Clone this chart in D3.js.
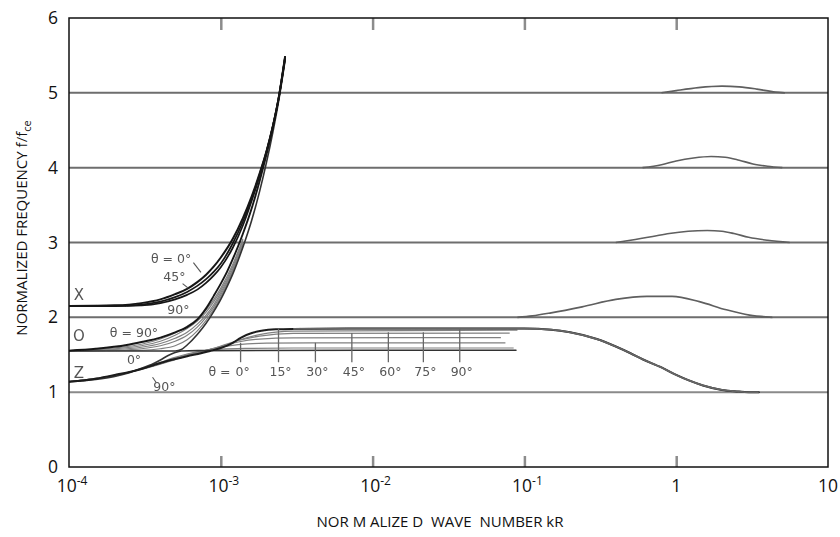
<!DOCTYPE html>
<html>
<head>
<meta charset="utf-8">
<script src="https://cdn.jsdelivr.net/npm/d3@7"></script>
<style>
  body { margin: 0; background: #fff; }
  svg { display: block; }
</style>
</head>
<body>
<svg id="chart" width="840" height="537"></svg>
<script>
// ---- axis definitions ----
const xDomain = [1e-4, 10];
const yDomain = [0, 6];
const xTickValues = [1e-4, 1e-3, 1e-2, 1e-1, 1, 10];
const xTickBase = ["10", "10", "10", "10", "1", "10"];
const xTickExp = ["-4", "-3", "-2", "-1", "", ""];
const xInnerTicks = [1e-3, 1e-2, 1e-1, 1];
const yTickValues = [0, 1, 2, 3, 4, 5, 6];

// cyclotron harmonic lines f/fce = n
const harmonics = [1, 2, 3, 4, 5];

// X-mode branches (theta = 0, 45, 90 deg), [kR, f/fce]
const xMode0 = [[1e-4,2.15],[2e-4,2.16],[3e-4,2.19],[4e-4,2.24],[5e-4,2.31],[6e-4,2.38],[7e-4,2.47],[8e-4,2.57],[9e-4,2.68],[1e-3,2.80],[1.2e-3,3.05],[1.4e-3,3.33],[1.6e-3,3.62],[1.8e-3,3.92],[2e-3,4.22],[2.2e-3,4.55],[2.4e-3,4.92],[2.65e-3,5.48]];
const xMode45 = [[1e-4,2.15],[2e-4,2.155],[3e-4,2.17],[4e-4,2.21],[5e-4,2.27],[6e-4,2.34],[7e-4,2.42],[8e-4,2.51],[9e-4,2.61],[1e-3,2.72],[1.2e-3,2.99],[1.4e-3,3.28],[1.6e-3,3.59],[1.8e-3,3.91],[2e-3,4.22],[2.2e-3,4.55],[2.4e-3,4.92],[2.65e-3,5.48]];
const xMode90 = [[1e-4,2.15],[2e-4,2.15],[3e-4,2.16],[4e-4,2.19],[5e-4,2.24],[6e-4,2.30],[7e-4,2.37],[8e-4,2.46],[9e-4,2.56],[1e-3,2.67],[1.2e-3,2.93],[1.4e-3,3.23],[1.6e-3,3.56],[1.8e-3,3.89],[2e-3,4.21],[2.2e-3,4.55],[2.4e-3,4.92],[2.65e-3,5.48]];

// O-mode branches
const oMode90 = [[1e-4,1.555],[1.5e-4,1.58],[2.4e-4,1.63],[3e-4,1.67],[4e-4,1.73],[5e-4,1.80],[6e-4,1.87],[7e-4,1.97],[8e-4,2.12],[9e-4,2.29],[1e-3,2.45],[1.1e-3,2.61],[1.2e-3,2.78],[1.3e-3,2.95],[1.4e-3,3.12],[1.6e-3,3.46],[1.8e-3,3.82],[2e-3,4.18],[2.2e-3,4.54],[2.4e-3,4.92],[2.65e-3,5.46]];
const oMode75 = [[1e-4,1.555],[2e-4,1.59],[3e-4,1.64],[4e-4,1.71],[5e-4,1.79],[6e-4,1.88],[7e-4,1.98],[8e-4,2.10],[9e-4,2.24],[1e-3,2.39],[1.2e-3,2.71],[1.4e-3,3.05]];
const oMode60 = [[1e-4,1.555],[2e-4,1.58],[3e-4,1.62],[4e-4,1.68],[5e-4,1.76],[6e-4,1.85],[7e-4,1.95],[8e-4,2.07],[9e-4,2.21],[1e-3,2.36],[1.2e-3,2.68],[1.4e-3,3.03]];
const oMode45 = [[1e-4,1.555],[2e-4,1.57],[3e-4,1.60],[4e-4,1.65],[5e-4,1.72],[6e-4,1.80],[7e-4,1.91],[8e-4,2.03],[9e-4,2.17],[1e-3,2.33],[1.2e-3,2.65],[1.4e-3,3.00]];
const oMode30 = [[1e-4,1.55],[2e-4,1.56],[3e-4,1.58],[4e-4,1.62],[5e-4,1.68],[6e-4,1.76],[7e-4,1.87],[8e-4,2.00],[9e-4,2.14],[1e-3,2.30],[1.2e-3,2.63],[1.4e-3,2.98]];
const oMode15 = [[1e-4,1.55],[3e-4,1.56],[4e-4,1.58],[5e-4,1.62],[6e-4,1.70],[7e-4,1.82],[8e-4,1.96],[9e-4,2.11],[1e-3,2.27],[1.2e-3,2.61],[1.4e-3,2.96]];
const oMode0 = [[1e-4,1.55],[3e-4,1.55],[5e-4,1.55],[5.5e-4,1.57],[6e-4,1.63],[7e-4,1.77],[8e-4,1.92],[9e-4,2.08],[1e-3,2.24],[1.1e-3,2.41],[1.2e-3,2.58],[1.3e-3,2.76],[1.4e-3,2.94],[1.6e-3,3.30],[1.8e-3,3.68],[2e-3,4.07],[2.2e-3,4.47],[2.4e-3,4.88],[2.65e-3,5.43]];

// Z-mode branches; theta = 90 runs on into the first Bernstein band
const zMode90 = [[1e-4,1.14],[1.5e-4,1.18],[2e-4,1.23],[2.5e-4,1.27],[3e-4,1.31],[3.6e-4,1.36],[4.5e-4,1.42],[5.2e-4,1.45],[6e-4,1.48],[7.4e-4,1.52],[8.5e-4,1.55],[1e-3,1.59],[1.2e-3,1.66],[1.36e-3,1.73],[1.6e-3,1.79],[1.85e-3,1.82],[2.3e-3,1.84],[3e-3,1.845],[1e-2,1.85],[5e-2,1.85],[0.1,1.85],[0.15,1.835],[0.2,1.80],[0.3,1.71],[0.4,1.61],[0.5,1.52],[0.6,1.44],[0.8,1.33],[1.0,1.23],[1.2,1.16],[1.5,1.09],[2.0,1.03],[2.5,1.01],[3.0,1.0],[3.5,1.0]];
const zMode75 = [[1e-4,1.14],[2e-4,1.225],[3e-4,1.305],[4e-4,1.375],[5e-4,1.435],[6e-4,1.485],[7e-4,1.52],[8e-4,1.55],[1e-3,1.60],[1.3e-3,1.69],[1.8e-3,1.77],[3e-3,1.815],[9e-2,1.83]];
const zMode60 = [[1e-4,1.14],[2e-4,1.225],[3e-4,1.31],[4e-4,1.38],[5e-4,1.44],[6e-4,1.49],[7e-4,1.525],[8e-4,1.555],[1e-3,1.615],[1.3e-3,1.69],[1.8e-3,1.75],[3e-3,1.785],[8e-2,1.79]];
const zMode45 = [[1e-4,1.14],[2e-4,1.22],[3e-4,1.31],[4e-4,1.385],[5e-4,1.45],[6e-4,1.495],[7e-4,1.53],[8e-4,1.56],[1e-3,1.61],[1.3e-3,1.67],[1.8e-3,1.71],[3e-3,1.725],[7e-2,1.73]];
const zMode30 = [[1e-4,1.14],[2e-4,1.22],[3e-4,1.31],[4e-4,1.39],[5e-4,1.455],[6e-4,1.50],[7e-4,1.535],[8e-4,1.56],[1e-3,1.60],[1.3e-3,1.635],[2e-3,1.655],[4e-3,1.66],[7.5e-2,1.66]];
const zMode15 = [[1e-4,1.14],[2e-4,1.22],[3e-4,1.315],[4e-4,1.40],[5e-4,1.465],[6e-4,1.51],[7e-4,1.54],[8e-4,1.56],[1e-3,1.575],[1.5e-3,1.585],[3e-3,1.59],[8.5e-2,1.59]];
const zMode0 = [[1e-4,1.14],[1.5e-4,1.17],[2e-4,1.21],[2.5e-4,1.26],[3e-4,1.32],[3.5e-4,1.37],[4e-4,1.43],[4.5e-4,1.49],[5e-4,1.53],[5.5e-4,1.55],[7e-4,1.555],[1e-2,1.56],[8.8e-2,1.56]];

// higher Bernstein bands leaving and rejoining the harmonics
const bern2 = [[0.09,2.0],[0.113,2.02],[0.15,2.06],[0.24,2.14],[0.4,2.24],[0.64,2.28],[0.94,2.28],[1.42,2.21],[2.14,2.10],[3.04,2.03],[4.3,2.0]];
const bern3 = [[0.4,3.0],[0.5,3.03],[0.7,3.08],[0.9,3.12],[1.2,3.15],[1.6,3.16],[2.0,3.15],[2.4,3.12],[3.0,3.07],[4.0,3.03],[5.6,3.0]];
const bern4 = [[0.6,4.0],[0.8,4.04],[1.0,4.09],[1.3,4.13],[1.7,4.15],[2.1,4.14],[2.6,4.10],[3.2,4.05],[4.0,4.02],[5.0,4.0]];
const bern5 = [[0.8,5.0],[1.0,5.03],[1.4,5.07],[2.0,5.09],[2.6,5.08],[3.4,5.05],[4.5,5.01],[5.2,5.0]];

// resonance-cone angle labels with their leader ticks
const coneAngles = ["0°", "15°", "30°", "45°", "60°", "75°", "90°"];
const coneTickK = [1.35e-3, 2.4e-3, 4.2e-3, 7.3e-3, 1.27e-2, 2.16e-2, 3.75e-2];
const coneTickTop = [1.66, 1.85, 1.66, 1.79, 1.80, 1.80, 1.85];
const coneTickBottom = 1.40;
const coneLabelF = 1.27;

// branch annotations: [text, kR, f/fce, size]
const branchLabels = [
  ["X", 1.16e-4, 2.30, 15],
  ["O", 1.16e-4, 1.75, 15],
  ["Z", 1.16e-4, 1.26, 15],
  ["θ = 0°", 4.7e-4, 2.79, 12.5],
  ["45°", 4.95e-4, 2.54, 12.5],
  ["90°", 5.25e-4, 2.10, 12.5],
  ["θ = 90°", 2.68e-4, 1.79, 12.5],
  ["0°", 2.68e-4, 1.43, 12.5],
  ["90°", 4.25e-4, 1.07, 12.5]
];
const branchLeaders = [
  [[6.6e-4, 2.73], [7.4e-4, 2.60]],
  [[5.6e-4, 2.45], [6.1e-4, 2.39]],
  [[3.55e-4, 1.20], [3.75e-4, 1.13]]
];

// ---- drawing ----
const svg = d3.select("#chart");
const x = d3.scaleLog().domain(xDomain).range([69, 828]);
const y = d3.scaleLinear().domain(yDomain).range([467, 18]);

const defs = svg.append("defs");
defs.append("clipPath").attr("id", "plotClip")
  .append("rect").attr("x", 69).attr("y", 18).attr("width", 759).attr("height", 449);
defs.append("filter").attr("id", "soft")
  .attr("x", "-5%").attr("y", "-5%").attr("width", "110%").attr("height", "110%")
  .append("feGaussianBlur").attr("stdDeviation", 0.55);

const line = d3.line().x(d => x(d[0])).y(d => y(d[1])).curve(d3.curveMonotoneX);

const plot = svg.append("g").attr("clip-path", "url(#plotClip)");
const ink = plot.append("g").attr("filter", "url(#soft)");

// harmonic lines
ink.selectAll("path.harm").data(harmonics).join("path")
  .attr("class", "harm")
  .attr("d", h => line([[xDomain[0], h], [xDomain[1], h]]))
  .attr("fill", "none")
  .attr("stroke", h => h === 1 ? "#8a8a8a" : "#6e6e6e")
  .attr("stroke-width", 2);

// Bernstein bands
ink.selectAll("path.bern").data([bern2, bern3, bern4, bern5]).join("path")
  .attr("class", "bern")
  .attr("d", line)
  .attr("fill", "none")
  .attr("stroke", "#5e5e5e")
  .attr("stroke-width", 1.6);

// thin oblique-angle branches (fan shading)
const fan = [oMode15, oMode30, oMode45, oMode60, oMode75, zMode15, zMode30, zMode45, zMode60, zMode75];
ink.selectAll("path.fan").data(fan).join("path")
  .attr("class", "fan")
  .attr("d", line)
  .attr("fill", "none")
  .attr("stroke", "#808080")
  .attr("stroke-width", 1.2);

// principal branches
const principal = [
  [oMode0, "#333", 1.6],
  [zMode0, "#333", 1.6],
  [oMode90, "#151515", 1.9],
  [xMode90, "#151515", 1.7],
  [xMode45, "#151515", 1.7],
  [xMode0, "#151515", 2.0],
  [zMode90, "#1a1a1a", 2.0]
];
ink.selectAll("path.main").data(principal).join("path")
  .attr("class", "main")
  .attr("d", d => line(d[0]))
  .attr("fill", "none")
  .attr("stroke", d => d[1])
  .attr("stroke-width", d => d[2])
  .attr("stroke-linecap", "round");

// the theta = 90 plateau and Bernstein descent in grey
ink.append("path")
  .attr("d", line(zMode90.filter(d => d[0] >= 3e-3)))
  .attr("fill", "none").attr("stroke", "#666").attr("stroke-width", 1.8);

// resonance-cone leader ticks and angle labels
const lbl = plot.append("g").attr("filter", "url(#soft)");
lbl.selectAll("line.cone").data(coneTickK).join("line")
  .attr("class", "cone")
  .attr("x1", k => x(k)).attr("x2", k => x(k))
  .attr("y1", y(coneTickBottom)).attr("y2", (k, i) => y(coneTickTop[i]))
  .attr("stroke", "#666").attr("stroke-width", 1.3);
lbl.selectAll("text.cone").data(coneAngles).join("text")
  .attr("class", "cone")
  .attr("x", (t, i) => x(coneTickK[i]) + 2)
  .attr("y", y(coneLabelF))
  .attr("dy", "0.35em")
  .attr("text-anchor", "middle")
  .attr("font-family", "DejaVu Sans, sans-serif")
  .attr("font-size", 12.5)
  .attr("fill", "#555")
  .text(t => t);
lbl.append("text")
  .attr("x", x(coneTickK[0]) - 10)
  .attr("y", y(coneLabelF))
  .attr("dy", "0.35em")
  .attr("text-anchor", "end")
  .attr("font-family", "DejaVu Sans, sans-serif")
  .attr("font-size", 12.5)
  .attr("fill", "#555")
  .text("θ =");

// branch labels and leader lines
lbl.selectAll("text.branch").data(branchLabels).join("text")
  .attr("class", "branch")
  .attr("x", d => x(d[1]))
  .attr("y", d => y(d[2]))
  .attr("dy", "0.35em")
  .attr("text-anchor", "middle")
  .attr("font-family", "DejaVu Sans, sans-serif")
  .attr("font-size", d => d[3])
  .attr("fill", "#555")
  .text(d => d[0]);
lbl.selectAll("path.leader").data(branchLeaders).join("path")
  .attr("class", "leader")
  .attr("d", d3.line().x(d => x(d[0])).y(d => y(d[1])))
  .attr("fill", "none").attr("stroke", "#555").attr("stroke-width", 1.1);

// ---- axes ----
const tickStyle = g => {
  g.select(".domain").remove();
  g.selectAll(".tick line").attr("stroke", "#8c8c8c").attr("stroke-width", 2.5);
};
svg.append("g").attr("transform", "translate(0,467)")
  .call(d3.axisBottom(x).tickValues(xInnerTicks).tickSize(-11).tickFormat(""))
  .call(tickStyle);
svg.append("g").attr("transform", "translate(0,18)")
  .call(d3.axisTop(x).tickValues(xInnerTicks).tickSize(-12).tickFormat(""))
  .call(tickStyle);

svg.append("g").attr("transform", "translate(69,0)")
  .call(d3.axisLeft(y).tickValues(yTickValues).tickSize(0).tickPadding(11).tickFormat(d3.format("d")))
  .call(g => {
    g.select(".domain").remove();
    g.selectAll("text").attr("font-family", "Open Sans, sans-serif").attr("font-size", 17.5).attr("fill", "#111");
  });

// frame
svg.append("rect")
  .attr("x", 69).attr("y", 18).attr("width", 759).attr("height", 449)
  .attr("fill", "none").attr("stroke", "#111").attr("stroke-width", 1.5);

// x tick labels with superscript exponents
const xl = svg.append("g").selectAll("text").data(xTickValues).join("text")
  .attr("x", (v, i) => x(v) + (xTickExp[i] ? 3 : 0))
  .attr("y", 492)
  .attr("text-anchor", "middle")
  .attr("font-family", "Open Sans, sans-serif")
  .attr("font-size", 17.5)
  .attr("fill", "#111");
xl.append("tspan").text((v, i) => xTickBase[i]);
xl.append("tspan").attr("dy", -7).attr("font-size", 12).text((v, i) => xTickExp[i]);

// axis titles
svg.append("text")
  .attr("x", 440).attr("y", 527)
  .attr("text-anchor", "middle")
  .attr("font-family", "Open Sans, sans-serif")
  .attr("font-size", 15)
  .attr("fill", "#111")
  .style("white-space", "pre")
  .text("NOR M ALIZE D  WAVE  NUMBER kR");

const yt = svg.append("text")
  .attr("transform", "translate(27,228) rotate(-90)")
  .attr("text-anchor", "middle")
  .attr("font-family", "Open Sans, sans-serif")
  .attr("font-size", 15)
  .attr("fill", "#111");
yt.append("tspan").text("NORMALIZED FREQUENCY f/f");
yt.append("tspan").attr("dy", 4).attr("font-size", 11).text("ce");
</script>
</body>
</html>
